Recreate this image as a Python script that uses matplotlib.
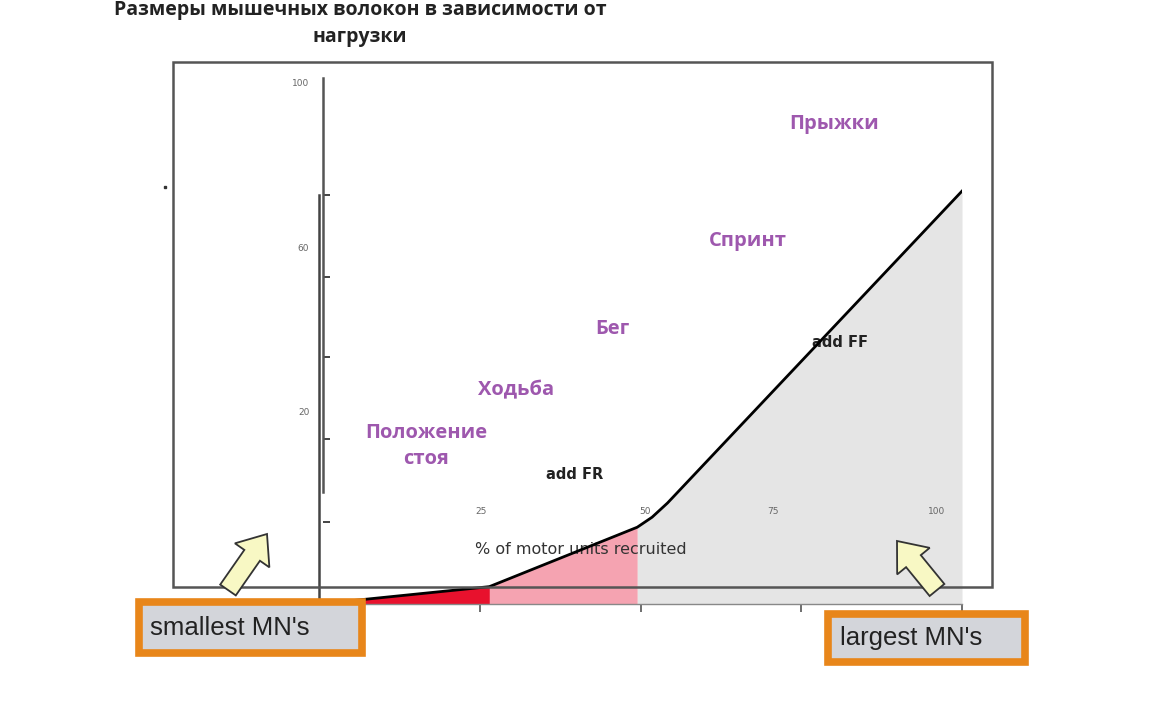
import matplotlib.pyplot as plt
from matplotlib.patches import Rectangle, FancyArrow

# доля рекрутированных двигательных единиц (%) и развиваемое усилие
recruited = [0, 26.5, 49.5, 51.8, 54.2, 100]
force = [0, 3.3, 14.6, 16.5, 19.2, 78.5]

title_lines = ["Размеры мышечных волокон в зависимости от", "нагрузки"]
activities = ["Положение\nстоя", "Ходьба", "Бег", "Спринт", "Прыжки"]
activity_pos = [(16.7, 30.0), (30.7, 40.7), (45.6, 52.3), (66.7, 69.0), (80.1, 91.3)]
old_y_ticks = [100, 60, 20]
old_y_minor = [72.8, 52.9, 33.4, 13.4, -6.7]
old_x_labels = ["25", "50", "75", "100"]
old_x_pos = [481, 645, 773, 937]

W, H = 1157, 709
fig = plt.figure(figsize=(W / 100, H / 100), dpi=100)

# основная ось с кривой
x0, x1, yb, yt = 319, 962, 604, 78
ax = fig.add_axes([x0 / W, (H - yb) / H, (x1 - x0) / W, (yb - yt) / H], zorder=2)
ax.set_facecolor("none")
ax.set_xlim(0, 100)
ax.set_ylim(0, 100)
ax.fill_between(recruited[0:2], force[0:2], color="#e8112d", lw=0)
ax.fill_between(recruited[1:3], force[1:3], color="#f5a3b1", lw=0)
ax.fill_between(recruited[2:], force[2:], color="#e5e5e5", lw=0)
ax.plot(recruited, force, color="black", lw=2, zorder=5)
for s in ["top", "right"]:
    ax.spines[s].set_visible(False)
ax.spines["left"].set_color("#444444")
ax.spines["left"].set_linewidth(1.8)
ax.spines["left"].set_bounds(0, 77.8)
ax.spines["bottom"].set_color("#888888")
ax.spines["bottom"].set_linewidth(1)
ax.set_xticks([25, 50, 75, 100])
ax.set_xticklabels([])
ax.tick_params(axis="x", length=6, color="#555555", width=1.2)
ax.set_yticks([])

for lab, (px, py) in zip(activities, activity_pos):
    ax.text(px, py, lab, color="#9e58ae", fontsize=14.5, fontweight="bold",
            family="Open Sans", ha="center", va="center", linespacing=1.4, zorder=1)
ax.text(39.7, 24.7, "add FR", fontsize=10.5, fontweight="bold", color="#222222",
        ha="center", va="center", zorder=1)
ax.text(81.0, 49.8, "add FF", fontsize=10.5, fontweight="bold", color="#222222",
        ha="center", va="center", zorder=1)
ax.text(0.4065, 0.1027, "% of motor units recruited", transform=ax.transAxes,
        fontsize=11.5, color="#333333", ha="center", va="center", zorder=1)

# старая шкала по оси Y
ax2 = fig.add_axes(ax.get_position(), zorder=2)
ax2.set_facecolor("none")
ax2.set_ylim(-26.7, 101.2)
ax2.set_xlim(0, 1)
ax2.set_yticks(old_y_ticks)
ax2.set_yticklabels([str(v) for v in old_y_ticks])
ax2.set_yticks(old_y_minor, minor=True)
ax2.tick_params(axis="y", which="major", length=0, pad=10, labelsize=6.5, labelcolor="#666666")
ax2.tick_params(axis="y", which="minor", direction="in", length=5, width=1.4, color="#444444")
ax2.set_xticks([])
for s in ["top", "right", "bottom"]:
    ax2.spines[s].set_visible(False)
ax2.spines["left"].set_position(("outward", -3))
ax2.spines["left"].set_bounds(0.55, 101.2)
ax2.spines["left"].set_color("#555555")
ax2.spines["left"].set_linewidth(1.8)

# оформление поверх в пиксельных координатах
ov = fig.add_axes([0, 0, 1, 1], zorder=3)
ov.set_facecolor("none")
ov.set_xlim(0, W)
ov.set_ylim(H, 0)
ov.axis("off")

ov.text(360, 10, title_lines[0], fontsize=14, fontweight="bold", family="Open Sans",
        color="#222222", ha="center", va="center")
ov.text(360, 37, title_lines[1], fontsize=14, fontweight="bold", family="Open Sans",
        color="#222222", ha="center", va="center")

ov.add_patch(Rectangle((173, 62), 819, 525, fill=False, ec="#555555", lw=1.8))
ov.plot([165], [187], marker="s", ms=1.5, color="#333333")

for lab, px in zip(old_x_labels, old_x_pos):
    ov.text(px, 512, lab, fontsize=6.5, color="#666666", ha="center", va="center")

for (bx, by, bw, bh, txt) in [(138.5, 601.5, 223, 51, "smallest MN's"),
                              (827.5, 613.5, 197, 48, "largest MN's")]:
    ov.add_patch(Rectangle((bx, by), bw, bh, fc="#d3d5da", ec="#e8861a", lw=5.5))
    ov.text(bx + 12, by + bh / 2 + 1, txt, fontsize=18.5, family="Liberation Sans",
            color="#222222", ha="left", va="center")

for (tx, ty, dx, dy) in [(228, 590, 39, -56), (937, 590, -40, -49)]:
    ov.add_patch(FancyArrow(tx, ty, dx, dy, width=19, head_width=42, head_length=26,
                            length_includes_head=True, fc="#f8f8c4", ec="#333333", lw=1.3))

fig.savefig("out.png", dpi=100)
